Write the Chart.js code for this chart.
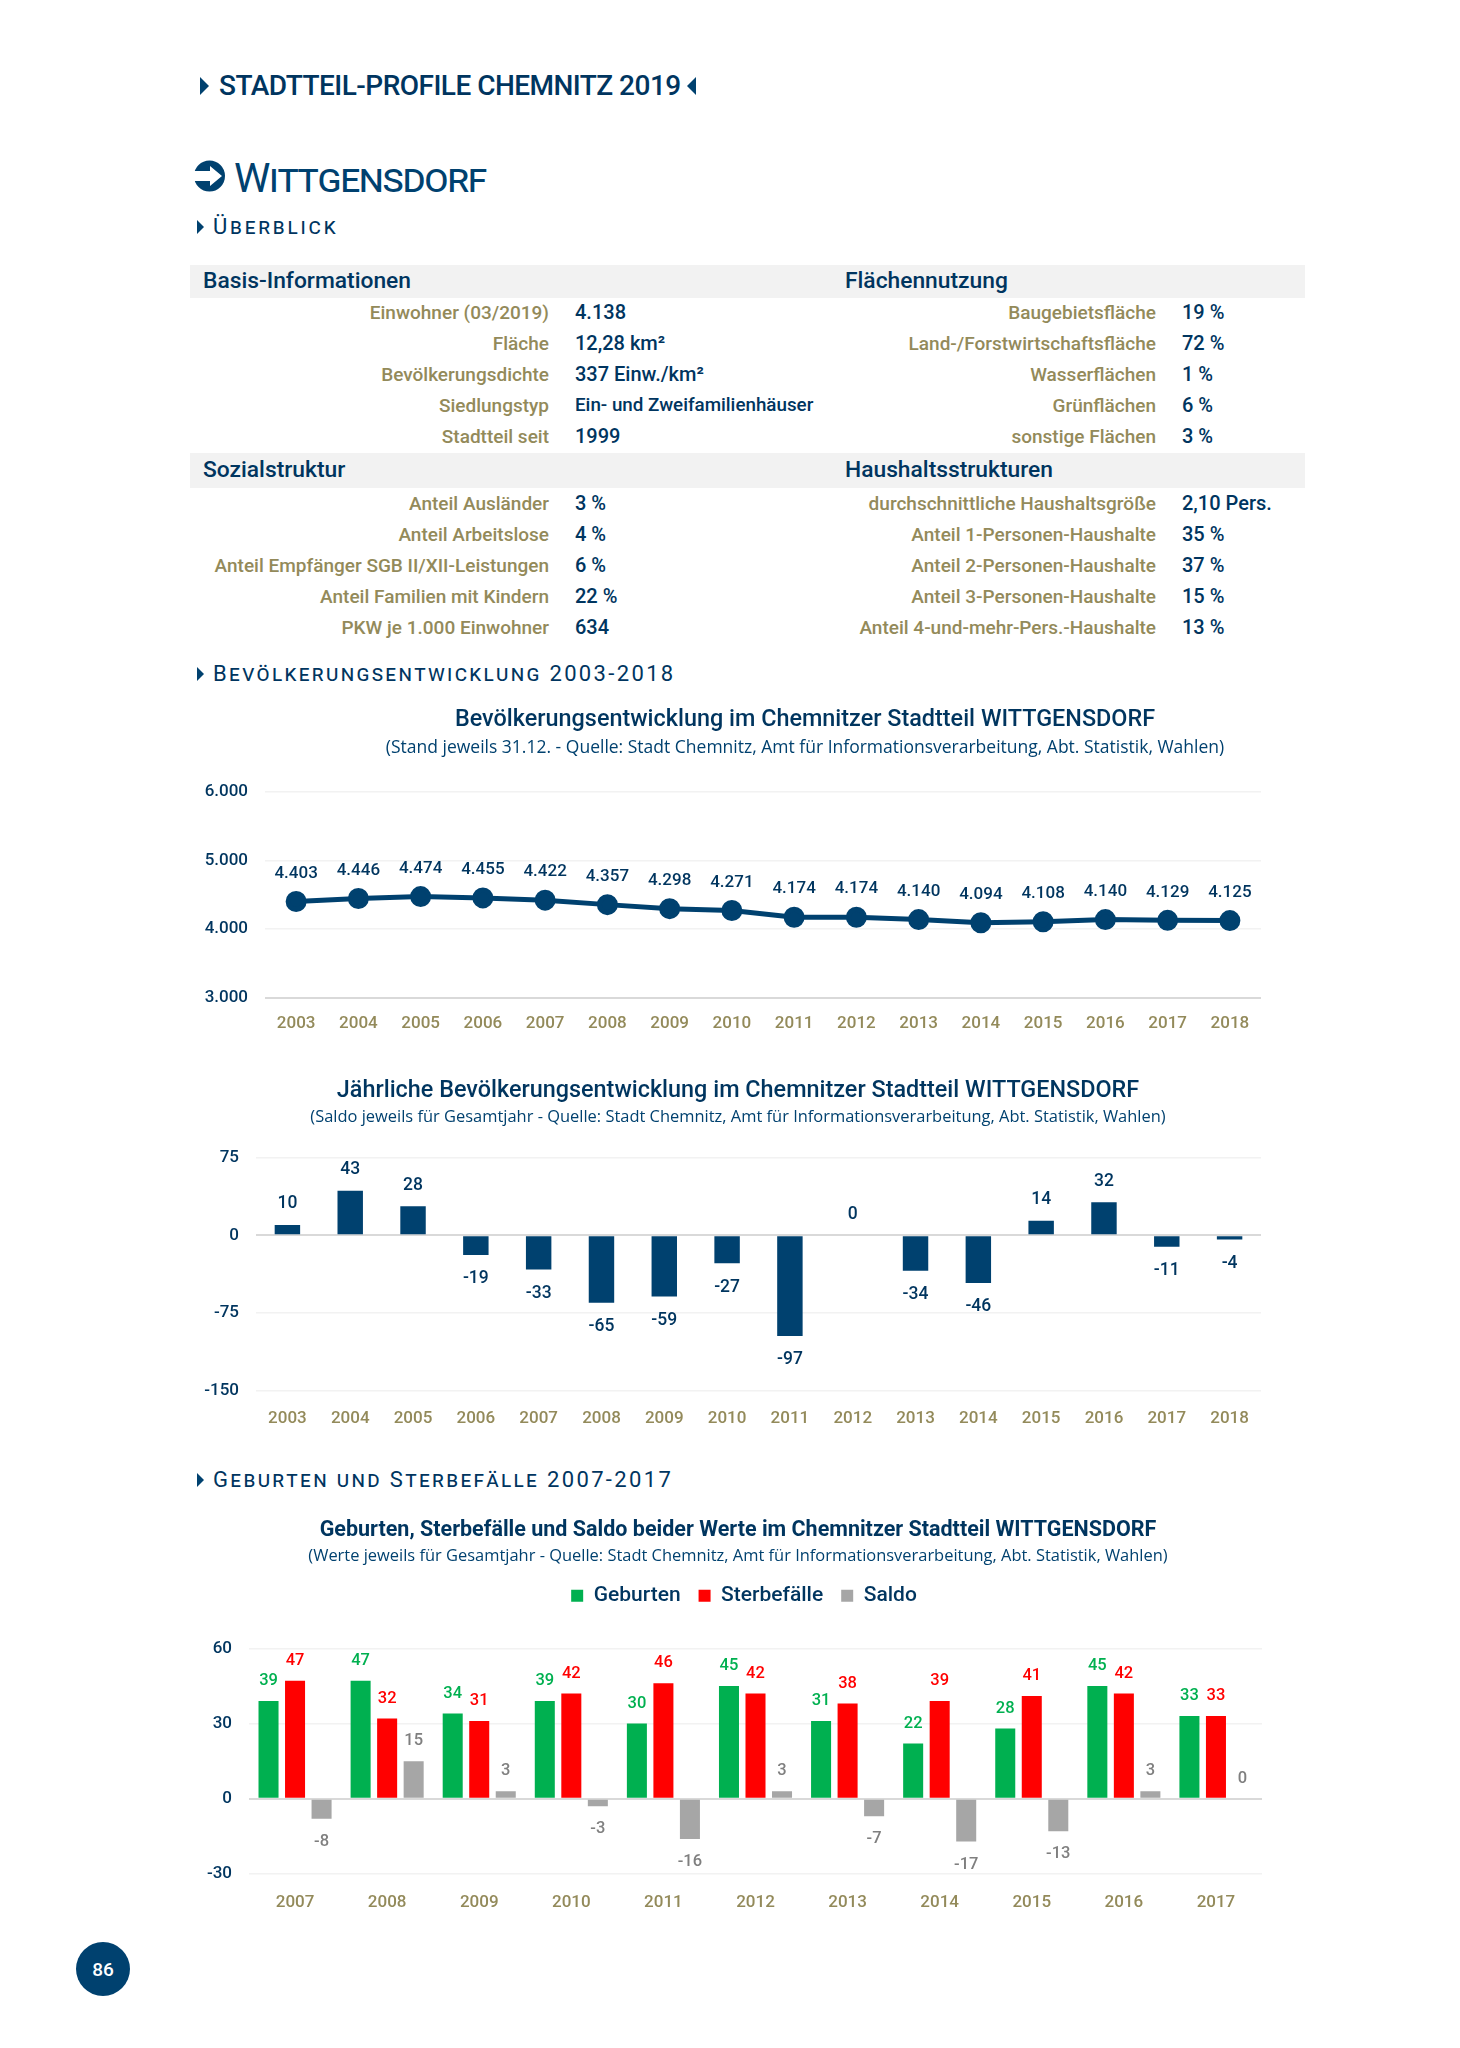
<!DOCTYPE html>
<html lang="de"><head><meta charset="utf-8"><title>Wittgensdorf</title>
<script src="https://cdn.jsdelivr.net/npm/chart.js@4"></script>
<style>
html,body{margin:0;padding:0;background:#fff}
#page{position:relative;width:1460px;height:2048px;overflow:hidden;font-family:Roboto,sans-serif;color:#00355f}
#page>*{position:absolute}
#rows{left:0;top:0;width:1460px;height:700px}
.t{white-space:nowrap;line-height:1;transform:translateY(-50%)}
.lab{color:#938a5a;font-size:19px;text-align:right;font-weight:500;white-space:nowrap;line-height:1;transform:translateY(-50%)}
.val{color:#00355f;font-size:20px;font-weight:500;white-space:nowrap;line-height:1;transform:translateY(-50%)}
.band{background:#f2f2f2;left:190px;width:1115px}
.bh{font-size:22.8px;font-weight:500;white-space:nowrap;line-height:1;transform:translateY(-50%)}
.sec{font-size:22px;font-weight:400;letter-spacing:2.35px;font-variant:small-caps;white-space:nowrap;line-height:1;transform:translateY(-50%)}
canvas{position:absolute;display:block}
</style></head><body><div id="page">
<svg style="left:198px;top:76px" width="12" height="20"><path d="M2 1L11 10L2 19Z" fill="#00416f"/></svg>
<div class="t" style="left:219px;top:86px;font-size:28px;font-weight:500;letter-spacing:-.53px">STADTTEIL-PROFILE CHEMNITZ 2019</div>
<svg style="left:686px;top:76px" width="12" height="20"><path d="M10 1L1 10L10 19Z" fill="#00416f"/></svg>
<svg style="left:194px;top:160px" width="32" height="32"><circle cx="15.5" cy="16" r="15.5" fill="#00416f"/><path d="M0 11H16V6L28 16L16 26V21H0Z" fill="#fff"/></svg>
<div class="t" style="left:234px;top:178px;font-size:41px;letter-spacing:-1.3px;font-variant:small-caps;color:#00416f">Wittgensdorf</div>
<svg style="left:196px;top:219px" width="10" height="16"><path d="M1 1L8 8L1 15Z" fill="#00416f"/></svg>
<div class="sec" style="left:213px;top:227px;letter-spacing:2.8px">Überblick</div>

<div class="band" style="top:265px;height:33px"></div>
<div class="bh" style="left:203px;top:281px">Basis-Informationen</div>
<div class="bh" style="left:845px;top:281px">Flächennutzung</div>
<div class="band" style="top:453px;height:35px"></div>
<div class="bh" style="left:203px;top:470px">Sozialstruktur</div>
<div class="bh" style="left:845px;top:470px">Haushaltsstrukturen</div>

<div id="rows"></div>

<svg style="left:196px;top:666px" width="10" height="16"><path d="M1 1L8 8L1 15Z" fill="#00416f"/></svg>
<div class="sec" style="left:213px;top:674px">Bevölkerungsentwicklung 2003-2018</div>
<svg style="left:196px;top:1472px" width="10" height="16"><path d="M1 1L8 8L1 15Z" fill="#00416f"/></svg>
<div class="sec" style="left:213px;top:1480px">Geburten und Sterbefälle 2007-2017</div>

<canvas id="c1" width="1230" height="344" style="left:190px;top:706px"></canvas>
<canvas id="c2" width="1096" height="364" style="left:190px;top:1077px"></canvas>
<canvas id="c3" width="1096" height="409" style="left:190px;top:1518px"></canvas>

<svg style="left:76px;top:1942px" width="54" height="54"><circle cx="27" cy="27" r="27" fill="#00416f"/></svg>
<div class="t" style="left:76px;width:54px;text-align:center;top:1969px;color:#fff;font-size:19px;font-weight:500">86</div>
</div>
<script>
const basisRows = [["Einwohner (03/2019)","4.138"],["Fläche","12,28 km²"],["Bevölkerungsdichte","337 Einw./km²"],["Siedlungstyp","Ein- und Zweifamilienhäuser"],["Stadtteil seit","1999"]];
const flaecheRows = [["Baugebietsfläche","19 %"],["Land-/Forstwirtschaftsfläche","72 %"],["Wasserflächen","1 %"],["Grünflächen","6 %"],["sonstige Flächen","3 %"]];
const sozialRows = [["Anteil Ausländer","3 %"],["Anteil Arbeitslose","4 %"],["Anteil Empfänger SGB II/XII-Leistungen","6 %"],["Anteil Familien mit Kindern","22 %"],["PKW je 1.000 Einwohner","634"]];
const haushaltRows = [["durchschnittliche Haushaltsgröße","2,10 Pers."],["Anteil 1-Personen-Haushalte","35 %"],["Anteil 2-Personen-Haushalte","37 %"],["Anteil 3-Personen-Haushalte","15 %"],["Anteil 4-und-mehr-Pers.-Haushalte","13 %"]];

const popYears = ["2003","2004","2005","2006","2007","2008","2009","2010","2011","2012","2013","2014","2015","2016","2017","2018"];
const popValues = [4403,4446,4474,4455,4422,4357,4298,4271,4174,4174,4140,4094,4108,4140,4129,4125];
const saldoYears = popYears;
const saldoValues = [10,43,28,-19,-33,-65,-59,-27,-97,0,-34,-46,14,32,-11,-4];
const vitalYears = ["2007","2008","2009","2010","2011","2012","2013","2014","2015","2016","2017"];
const births = [39,47,34,39,30,45,31,22,28,45,33];
const deaths = [47,32,31,42,46,42,38,39,41,42,33];
const vitalSaldo = [-8,15,3,-3,-16,3,-7,-17,-13,3,0];

const NAVY="#00416f", TEXT="#00355f", TAN="#938a5a", GREEN="#00b050", RED="#ff0000", GREY="#a6a6a6";
const FF="Roboto, sans-serif", SUB="'Open Sans', sans-serif";

const rowsEl=document.getElementById('rows');
function addRows(list,ys,labelRight,valueLeft){
  list.forEach((r,i)=>{
    const a=document.createElement('div');a.className='lab';a.textContent=r[0];
    a.style.cssText=`position:absolute;right:${1460-labelRight}px;top:${ys[i]}px`;
    const b=document.createElement('div');b.className='val';b.textContent=r[1];
    b.style.cssText=`position:absolute;left:${valueLeft}px;top:${ys[i]}px`+(r[1].length>20?';font-size:18.8px':'');
    rowsEl.append(a,b);
  });
}
const ysTop=[312,343,374,405,436], ysBot=[503,534,565,596,627];
addRows(basisRows,ysTop,549,575);
addRows(flaecheRows,ysTop,1156,1182);
addRows(sozialRows,ysBot,549,575);
addRows(haushaltRows,ysBot,1156,1182);

const de=v=>{const s=String(Math.abs(v));const t=s.length>3?s.slice(0,-3)+'.'+s.slice(-3):s;return (v<0?'-':'')+t;};

const valueLabels={id:'valueLabels',afterDatasetsDraw(chart,args,o){
  const ctx=chart.ctx;ctx.save();ctx.textAlign='center';ctx.textBaseline='middle';
  ctx.font=`500 ${o.size}px ${FF}`;
  chart.data.datasets.forEach((ds,i)=>{
    chart.getDatasetMeta(i).data.forEach((el,j)=>{
      const v=ds.data[j];
      ctx.fillStyle=ds.labelColor||TEXT;
      const y=v<0?el.y+o.below:el.y-o.above;
      ctx.fillText(de(v),el.x,y);
    });
  });
  ctx.restore();
}};

function yAxis(min,max,step,plotLeft,strong){
  return {min,max,
    border:{display:false},
    grid:{drawTicks:false,color:c=>c.tick.value===strong?'#d9d9d9':'#f2f2f2',lineWidth:c=>c.tick.value===strong?2:1.5},
    ticks:{stepSize:step,padding:17,color:TEXT,font:{family:FF,size:17,weight:'500'},callback:v=>de(v)},
    afterFit(s){s.width=plotLeft-190;}
  };
}
function rightGutter(w){
  return {position:'right',min:0,max:1,border:{display:false},grid:{display:false,drawTicks:false},
    ticks:{display:false},afterFit(s){s.width=w;}};
}
function xAxis(h,pad){
  return {offset:true,border:{display:false},grid:{display:false,drawTicks:false},
    ticks:{padding:pad,color:TAN,font:{family:FF,size:17,weight:'500'},maxRotation:0,autoSkip:false},
    afterFit(s){s.height=h;}
  };
}
function titles(t,s,tSize,tWeight,sSize,gap,subBottom){
  return {
    title:{display:true,text:t,color:TEXT,font:{family:FF,size:tSize,weight:tWeight,lineHeight:1.2},padding:{top:0,bottom:gap}},
    subtitle:{display:true,text:s,color:NAVY,font:{family:SUB,size:sSize,weight:'400',lineHeight:1},padding:{top:0,bottom:subBottom}}
  };
}

new Chart(document.getElementById('c1'),{
  type:'line',
  data:{labels:popYears,datasets:[{data:popValues,borderColor:NAVY,backgroundColor:NAVY,borderWidth:5,pointRadius:8,pointHoverRadius:8,tension:0,clip:false}]},
  options:{responsive:false,animation:false,devicePixelRatio:1,
    plugins:{legend:{display:false},tooltip:{enabled:false},...titles("Bevölkerungsentwicklung im Chemnitzer Stadtteil WITTGENSDORF","(Stand jeweils 31.12. - Quelle: Stadt Chemnitz, Amt für Informationsverarbeitung, Abt. Statistik, Wahlen)",23.4,'500',17.5,5,35),
      valueLabels:{size:17,above:28,below:28}},
    scales:{x:xAxis(52,16),y:yAxis(3000,6000,1000,265,3000),gutter:rightGutter(159)}},
  plugins:[valueLabels]
});

new Chart(document.getElementById('c2'),{
  type:'bar',
  data:{labels:saldoYears,datasets:[{data:saldoValues,backgroundColor:NAVY,barPercentage:.405,categoryPercentage:1}]},
  options:{responsive:false,animation:false,devicePixelRatio:1,
    plugins:{legend:{display:false},tooltip:{enabled:false},...titles("Jährliche Bevölkerungsentwicklung im Chemnitzer Stadtteil WITTGENSDORF","(Saldo jeweils für Gesamtjahr - Quelle: Stadt Chemnitz, Amt für Informationsverarbeitung, Abt. Statistik, Wahlen)",23.4,'500',16.45,4,32),
      valueLabels:{size:17.5,above:21,below:24}},
    scales:{x:xAxis(50,18),y:yAxis(-150,75,75,256,0),gutter:rightGutter(25)}},
  plugins:[valueLabels]
});

const legendGap={id:'legendGap',beforeInit(chart){
  const f=chart.legend.fit;chart.legend.fit=function(){f.call(this);this.height+=32;};
},afterLayout(chart){chart.legend.left+=6;chart.legend.right+=6;}};
new Chart(document.getElementById('c3'),{
  type:'bar',
  data:{labels:vitalYears,datasets:[
    {label:"Geburten",data:births,backgroundColor:GREEN,labelColor:GREEN,barPercentage:.755,categoryPercentage:.864},
    {label:"Sterbefälle",data:deaths,backgroundColor:RED,labelColor:RED,barPercentage:.755,categoryPercentage:.864},
    {label:"Saldo",data:vitalSaldo,backgroundColor:GREY,labelColor:"#7f7f7f",barPercentage:.755,categoryPercentage:.864}
  ]},
  options:{responsive:false,animation:false,devicePixelRatio:1,
    plugins:{tooltip:{enabled:false},...titles("Geburten, Sterbefälle und Saldo beider Werte im Chemnitzer Stadtteil WITTGENSDORF","(Werte jeweils für Gesamtjahr - Quelle: Stadt Chemnitz, Amt für Informationsverarbeitung, Abt. Statistik, Wahlen)",21.5,'700',16.45,4,3),
      legend:{display:true,position:'top',labels:{boxWidth:12,boxHeight:12,padding:18,color:TEXT,font:{family:FF,size:21,weight:'500'}}},
      valueLabels:{size:16.5,above:20,below:23}},
    scales:{x:xAxis(53,19),y:yAxis(-30,60,30,249,0),gutter:rightGutter(24)}},
  plugins:[valueLabels,legendGap]
});
</script></body></html>
